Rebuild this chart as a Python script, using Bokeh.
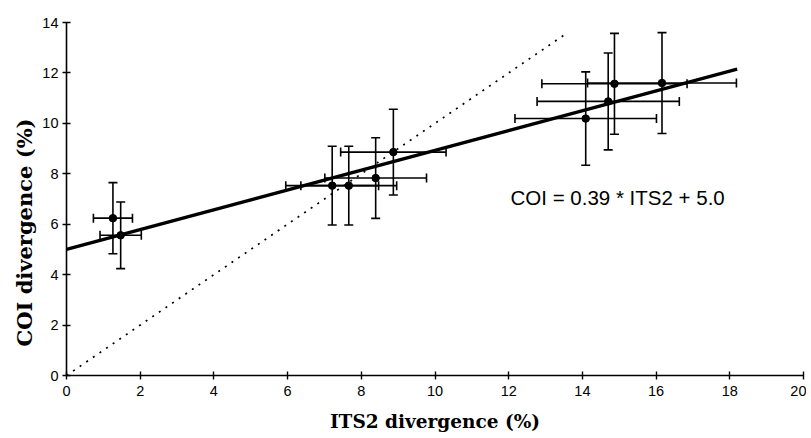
from bokeh.plotting import figure
from bokeh.models import (ColumnDataSource, Whisker, TeeHead, FixedTicker, Range1d,
                          Label, Title)
from bokeh.embed import file_html
from bokeh.resources import INLINE

# ---- data ----
its2 = [1.26, 1.47, 7.21, 7.66, 8.39, 8.87, 14.09, 14.70, 14.87, 16.16]
coi = [6.24, 5.56, 7.53, 7.53, 7.83, 8.86, 10.19, 10.87, 11.57, 11.60]
its2_err = [0.53, 0.56, 1.26, 1.30, 1.38, 1.43, 1.92, 1.93, 1.97, 2.02]
coi_err = [1.41, 1.32, 1.56, 1.56, 1.60, 1.70, 1.85, 1.92, 2.00, 2.00]

fit_x = [0.0, 18.2]
fit_y = [5.0, 12.15]
diag_x = [0.0, 13.6]
diag_y = [0.0, 13.6]

x_ticks = [0, 2, 4, 6, 8, 10, 12, 14, 16, 18, 20]
y_ticks = [0, 2, 4, 6, 8, 10, 12, 14]

equation_text = "COI = 0.39 * ITS2 + 5.0"
x_label = "ITS2 divergence (%)"
y_label = "COI divergence (%)"

src = ColumnDataSource(dict(
    x=its2, y=coi,
    xl=[a - e for a, e in zip(its2, its2_err)],
    xu=[a + e for a, e in zip(its2, its2_err)],
    yl=[a - e for a, e in zip(coi, coi_err)],
    yu=[a + e for a, e in zip(coi, coi_err)],
))

W, H = 806, 434
p = figure(width=W, height=H, output_backend="svg", toolbar_location=None,
           x_range=Range1d(0, 20), y_range=Range1d(0, 14),
           min_border_left=66, min_border_right=3, min_border_top=22,
           min_border_bottom=H - 375)
p.outline_line_color = None
p.xgrid.visible = False
p.ygrid.visible = False
p.background_fill_color = "white"
p.border_fill_color = "white"

for ax in (p.xaxis[0], p.yaxis[0]):
    ax.axis_line_color = "black"
    ax.axis_line_width = 1.6
    ax.major_tick_line_color = "black"
    ax.major_tick_line_width = 1.4
    ax.major_tick_in = 4
    ax.major_tick_out = 4
    ax.minor_tick_line_color = None
    ax.major_label_text_font = "Liberation Sans"
    ax.major_label_text_font_size = "14.5px"
    ax.major_label_text_color = "black"
    ax.major_label_standoff = 4

p.xaxis[0].ticker = FixedTicker(ticks=x_ticks)
p.yaxis[0].ticker = FixedTicker(ticks=y_ticks)
p.xaxis[0].major_label_standoff = 6

p.xaxis[0].axis_label = x_label
p.xaxis[0].axis_label_text_font = "DejaVu Serif"
p.xaxis[0].axis_label_text_font_style = "bold"
p.xaxis[0].axis_label_text_font_size = "18.5px"
p.xaxis[0].axis_label_text_color = "black"
p.xaxis[0].axis_label_standoff = 12

ytitle = Title(text=y_label, align="left", text_font="DejaVu Serif",
               text_font_style="bold", text_font_size="21px", offset=29,
               standoff=5, text_color="black")
p.add_layout(ytitle, "left")

# dotted 1:1 line
p.line(diag_x, diag_y, line_color="black", line_width=1.7, line_dash="2 6")
# regression line
p.line(fit_x, fit_y, line_color="black", line_width=3.3)

# error bars
head = dict(size=9, line_width=1.6, line_color="black")
p.add_layout(Whisker(source=src, base="x", lower="yl", upper="yu", dimension="height",
                     line_color="black", line_width=1.6,
                     upper_head=TeeHead(**head), lower_head=TeeHead(**head)))
p.add_layout(Whisker(source=src, base="y", lower="xl", upper="xu", dimension="width",
                     line_color="black", line_width=1.6,
                     upper_head=TeeHead(**head), lower_head=TeeHead(**head)))

p.scatter(x="x", y="y", source=src, size=7.5, color="black")

p.add_layout(Label(x=12.05, y=7.05, text=equation_text, text_font="Liberation Sans",
                   text_font_size="20.5px", text_baseline="middle", text_color="black"))

open("out.html", "w").write(file_html(p, INLINE))
